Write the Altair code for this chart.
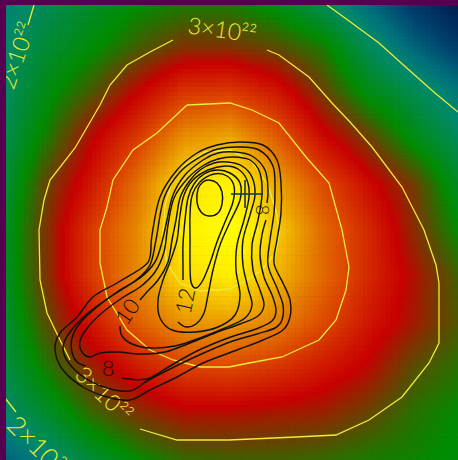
import altair as alt
import numpy as np
import pandas as pd

# ---------------------------------------------------------------------------
# Column density (units of 1e22 cm^-2) sampled on a coarse grid in map pixels
# ---------------------------------------------------------------------------
GRID_X = [0, 46, 92, 138, 184, 230, 276, 322, 368, 414, 458]
GRID_Y = [0, 46, 92, 138, 184, 230, 276, 322, 368, 414, 460]
DENSITY_ROWS = [
    [1.85, 2.10, 2.35, 2.55, 2.65, 2.65, 2.45, 2.05, 1.65, 1.30, 1.05],
    [1.95, 2.30, 2.55, 2.85, 3.10, 3.10, 2.95, 2.70, 2.10, 1.65, 1.35],
    [2.00, 2.50, 2.90, 3.40, 3.85, 3.90, 3.60, 3.05, 2.50, 2.15, 1.80],
    [2.10, 2.70, 3.35, 3.90, 4.60, 4.80, 4.20, 3.50, 3.05, 2.50, 2.10],
    [2.20, 3.00, 3.60, 4.35, 5.30, 5.65, 4.80, 4.05, 3.50, 3.05, 2.40],
    [2.30, 3.10, 3.90, 4.55, 5.55, 5.90, 5.15, 4.30, 3.75, 3.15, 2.60],
    [2.30, 3.10, 3.90, 4.55, 5.30, 5.50, 4.95, 4.30, 3.75, 3.30, 2.85],
    [2.25, 2.95, 3.60, 4.20, 4.65, 4.70, 4.50, 4.05, 3.60, 3.25, 2.90],
    [2.15, 2.70, 3.20, 3.60, 3.95, 4.00, 3.85, 3.60, 3.35, 2.95, 2.75],
    [1.95, 2.35, 2.80, 3.10, 3.30, 3.30, 3.25, 3.20, 3.00, 2.75, 2.60],
    [1.60, 1.90, 2.30, 2.60, 2.80, 2.85, 2.85, 2.80, 2.70, 2.65, 2.55],
]

# colour table of the map
CMAP_LEVELS = [1.0, 1.4, 1.75, 2.0, 2.6, 3.4, 4.0, 4.6, 5.0, 5.5, 5.9]
CMAP_COLORS = ["#001545", "#003f6e", "#00717c", "#008a6a", "#008c00", "#c80000",
               "#dc4600", "#e89000", "#f4be00", "#ffee00", "#ffff00"]

# map extent and pixel count of the displayed image
MAP_X = [6, 458]
MAP_Y = [5, 460]
N_PIX = 100

# ---------------------------------------------------------------------------
# Column density contours (yellow)
# ---------------------------------------------------------------------------
N2_TOPLEFT = [(28, 25), (34, 5)]
N2_BOTLEFT = [(5, 398), (16, 412)]
N2_TOPRIGHT = [(327, 5), (345, 18), (379, 43), (409, 70), (435, 93), (458, 112)]
N3_RIGHT = [(267, 50), (279, 55), (309, 77), (332, 103), (350, 122), (372, 147),
            (402, 187), (424, 230), (436, 265), (439, 283), (439, 343), (429, 363),
            (402, 397), (369, 420), (336, 435), (296, 437), (229, 440), (177, 440),
            (140, 429)]
N3_LEFT = [(70, 360), (60, 340), (47, 313), (40, 280), (39, 230), (44, 200),
           (50, 180), (75, 148), (100, 105), (110, 85), (127, 65), (150, 52), (173, 40)]
N4 = [(187, 105), (230, 103), (252, 110), (279, 123), (306, 157), (329, 183),
      (342, 230), (349, 267), (346, 290), (336, 320), (319, 340), (282, 357),
      (249, 363), (229, 367), (200, 367), (173, 360), (150, 350), (127, 330),
      (107, 297), (100, 263), (100, 230), (107, 207), (113, 180), (133, 150),
      (157, 133), (187, 105)]
N5 = [(185, 165), (205, 152), (230, 150), (252, 162), (268, 185), (277, 215),
      (279, 235), (276, 252), (262, 270), (242, 283), (229, 289), (200, 291),
      (180, 283), (167, 263), (163, 235), (165, 205), (172, 182), (185, 165)]

N_LABEL_TEXT = ["3×10²²", "3×10²²", "2×10²²", "2×10²²"]
N_LABEL_X = [222, 103, 18, 11]
N_LABEL_Y = [31, 395, 56, 421]
N_LABEL_ANGLE = [8, 44, 289, 45]
N_LABEL_SIZE = [23, 23, 23, 26]
N_LABEL_ALIGN = ["center", "center", "center", "left"]

# ---------------------------------------------------------------------------
# Line-emission contours (black), levels 6 ... 14
# closed loops first, then the pieces broken by their labels
# ---------------------------------------------------------------------------
LEVEL_6 = [(240, 142), (263, 145), (277, 160), (281, 183), (281, 213), (277, 240),
           (274, 263), (283, 283), (290, 300), (290, 317), (283, 330), (263, 340),
           (237, 350), (203, 363), (177, 377), (150, 390), (130, 400), (107, 397),
           (83, 387), (63, 370), (55, 350), (60, 333), (77, 317), (93, 297),
           (117, 283), (143, 267), (150, 257), (152, 235), (160, 197), (177, 170),
           (197, 153), (217, 145)]
LEVEL_7 = [(238, 147), (259, 150), (273, 166), (275, 190), (274, 213), (270, 240),
           (268, 265), (277, 288), (283, 305), (282, 320), (275, 328), (257, 334),
           (230, 342), (197, 356), (170, 369), (147, 381), (130, 391), (107, 388),
           (85, 378), (68, 362), (63, 347), (70, 332), (87, 314), (110, 297),
           (136, 280), (150, 265), (156, 240), (164, 198), (180, 172), (200, 157),
           (218, 149)]
LEVEL_9 = [(233, 157), (250, 160), (260, 173), (262, 195), (258, 220), (252, 245),
           (253, 270), (260, 290), (264, 305), (258, 316), (240, 324), (215, 333),
           (190, 343), (165, 352), (140, 354), (118, 352), (100, 353), (90, 357),
           (82, 352), (80, 341), (88, 327), (103, 312), (122, 298), (140, 287),
           (155, 272), (164, 252), (168, 225), (174, 198), (188, 178), (204, 165),
           (218, 159)]
LEVEL_11 = [(225, 166), (238, 169), (247, 180), (249, 197), (244, 220), (237, 245),
            (236, 270), (240, 295), (235, 315), (218, 327), (195, 332), (172, 330),
            (160, 318), (158, 300), (163, 280), (170, 262), (177, 240), (180, 215),
            (184, 195), (193, 180), (208, 170)]
LEVEL_13 = [(214, 174), (227, 176), (234, 186), (233, 202), (225, 222), (217, 242),
            (210, 263), (203, 280), (196, 288), (191, 282), (190, 265), (190, 240),
            (190, 215), (192, 196), (200, 182)]
LEVEL_14 = [(209, 180), (217, 183), (222, 192), (222, 204), (218, 213), (209, 216),
            (201, 212), (197, 202), (198, 189), (203, 182)]

LEVEL_8A = [(122, 378), (147, 379), (170, 366), (197, 351), (228, 338), (256, 329),
            (272, 321), (276, 310), (272, 295), (264, 277), (260, 255), (262, 235),
            (266, 220)]
LEVEL_8B = [(267, 203), (268, 190), (265, 170), (252, 156), (235, 152), (218, 153),
            (203, 160), (185, 175), (173, 195), (167, 220), (162, 242), (155, 262),
            (140, 278), (117, 292), (97, 307), (80, 323), (72, 338), (72, 352),
            (77, 362), (86, 366)]
LEVEL_10 = [(120, 326), (122, 336), (132, 344), (150, 348), (175, 346), (200, 338),
            (225, 328), (245, 318), (252, 305), (248, 288), (243, 265), (243, 240),
            (250, 215), (255, 195), (252, 177), (242, 166), (228, 162), (214, 163),
            (200, 170), (188, 183), (180, 198), (176, 220), (172, 240), (168, 262),
            (158, 280), (146, 293), (140, 300)]
LEVEL_12 = [(178, 322), (186, 327), (196, 324), (204, 313), (208, 295), (213, 270),
            (220, 245), (230, 222), (240, 200), (240, 183), (230, 173), (217, 170),
            (204, 174), (194, 184), (188, 198), (185, 220), (183, 245), (183, 265),
            (183, 280)]

LEVEL_LABEL_TEXT = ["8", "10", "12", "8"]
LEVEL_LABEL_X = [108, 128, 186, 261]
LEVEL_LABEL_Y = [369, 312, 301, 210]
LEVEL_LABEL_ANGLE = [0, 305, 282, 90]
LEVEL_LABEL_SIZE = [22, 22, 22, 18]

# reference position marker
MARKER_X = [245]
MARKER_Y = [194]
MARKER_ARM = 14

FONT = "Lato"
YELLOW = "#ecec3a"
INK = "#111111"

# ---------------------------------------------------------------------------
# Resample the density grid to the image pixels for display
# ---------------------------------------------------------------------------
grid = np.array(DENSITY_ROWS)
xe = np.linspace(MAP_X[0], MAP_X[1], N_PIX + 1)
ye = np.linspace(MAP_Y[0], MAP_Y[1], N_PIX + 1)
xc = 0.5 * (xe[:-1] + xe[1:])
yc = 0.5 * (ye[:-1] + ye[1:])
along_x = np.array([np.interp(xc, GRID_X, row) for row in grid])
pix = np.array([np.interp(yc, GRID_Y, along_x[:, i]) for i in range(N_PIX)]).T

X0, Y0 = np.meshgrid(xe[:-1], ye[:-1])
X1, Y1 = np.meshgrid(xe[1:], ye[1:])
image_df = pd.DataFrame({
    "x": X0.ravel(), "x2": X1.ravel() + 0.6,
    "y": Y0.ravel(), "y2": Y1.ravel() + 0.6,
    "v": pix.ravel(),
})


def paths_to_frame(paths, tag):
    rows = []
    for k, pts in enumerate(paths):
        for i, (px, py) in enumerate(pts):
            rows.append({"x": px, "y": py, "seg": f"{tag}{k}", "i": i})
    return pd.DataFrame(rows)


yellow_df = paths_to_frame([N2_TOPLEFT, N2_BOTLEFT, N2_TOPRIGHT, N3_RIGHT, N3_LEFT, N4, N5], "n")
closed_df = paths_to_frame([LEVEL_6, LEVEL_7, LEVEL_9, LEVEL_11, LEVEL_13, LEVEL_14], "c")
open_df = paths_to_frame([LEVEL_8A, LEVEL_8B, LEVEL_10, LEVEL_12], "o")

xs = alt.Scale(domain=[0, 458], nice=False, zero=False)
ys = alt.Scale(domain=[0, 460], nice=False, zero=False, reverse=True)


def X(f):
    return alt.X(f, type="quantitative", scale=xs, axis=None)


def Y(f):
    return alt.Y(f, type="quantitative", scale=ys, axis=None)


image = alt.Chart(image_df).mark_rect(strokeWidth=0).encode(
    x=X("x"), x2="x2", y=Y("y"), y2="y2",
    color=alt.Color("v:Q", legend=None,
                    scale=alt.Scale(domain=CMAP_LEVELS, range=CMAP_COLORS,
                                    clamp=True, interpolate="rgb")),
)

yellow = alt.Chart(yellow_df).mark_line(color=YELLOW, strokeWidth=1.3).encode(
    x=X("x"), y=Y("y"), detail="seg:N", order="i:Q",
)

black_closed = alt.Chart(closed_df).mark_line(
    color=INK, strokeWidth=1.45, interpolate="cardinal-closed"
).encode(x=X("x"), y=Y("y"), detail="seg:N", order="i:Q")

black_open = alt.Chart(open_df).mark_line(
    color=INK, strokeWidth=1.45, interpolate="cardinal"
).encode(x=X("x"), y=Y("y"), detail="seg:N", order="i:Q")

n_labels = pd.DataFrame({"t": N_LABEL_TEXT, "x": N_LABEL_X, "y": N_LABEL_Y,
                         "a": N_LABEL_ANGLE, "s": N_LABEL_SIZE, "al": N_LABEL_ALIGN})
yellow_text = []
for al in ["center", "left"]:
    yellow_text.append(
        alt.Chart(n_labels[n_labels["al"] == al]).mark_text(
            color=YELLOW, font=FONT, fontWeight=300, align=al, baseline="middle",
        ).encode(x=X("x"), y=Y("y"), text="t:N",
                 angle=alt.Angle("a:Q", scale=None), size=alt.Size("s:Q", scale=None))
    )

level_labels = pd.DataFrame({"t": LEVEL_LABEL_TEXT, "x": LEVEL_LABEL_X, "y": LEVEL_LABEL_Y,
                             "a": LEVEL_LABEL_ANGLE, "s": LEVEL_LABEL_SIZE})
black_text = alt.Chart(level_labels).mark_text(
    color=INK, font=FONT, fontWeight=300, align="center", baseline="middle",
).encode(x=X("x"), y=Y("y"), text="t:N",
         angle=alt.Angle("a:Q", scale=None), size=alt.Size("s:Q", scale=None))

marker_df = pd.DataFrame({"x": MARKER_X, "y": MARKER_Y})
marker_df["xl"] = marker_df["x"] - MARKER_ARM
marker_df["xr"] = marker_df["x"] + MARKER_ARM + 4
marker_df["yt"] = marker_df["y"] - MARKER_ARM
marker_df["yb"] = marker_df["y"] + MARKER_ARM
cross_h = alt.Chart(marker_df).mark_rule(color="#123c4a", strokeWidth=1.6).encode(
    x=X("xl"), x2="xr", y=Y("y"))
cross_v = alt.Chart(marker_df).mark_rule(color="#123c4a", strokeWidth=1.6).encode(
    x=X("x"), y=Y("yt"), y2="yb")

frame_df = pd.DataFrame({"x": [0, 0], "x2": [458, MAP_X[0]],
                         "y": [0, 0], "y2": [MAP_Y[0], 460]})
frame = alt.Chart(frame_df).mark_rect(color="#560050", strokeWidth=0).encode(
    x=X("x"), x2="x2", y=Y("y"), y2="y2")

chart = alt.layer(
    image, yellow, *yellow_text, black_closed, black_open, black_text,
    cross_h, cross_v, frame
).properties(
    width=458, height=460, padding=0, autosize="none", background="#560050"
).configure_view(stroke=None)

chart.save("out.html", embed_options={"renderer": "svg", "actions": False})
